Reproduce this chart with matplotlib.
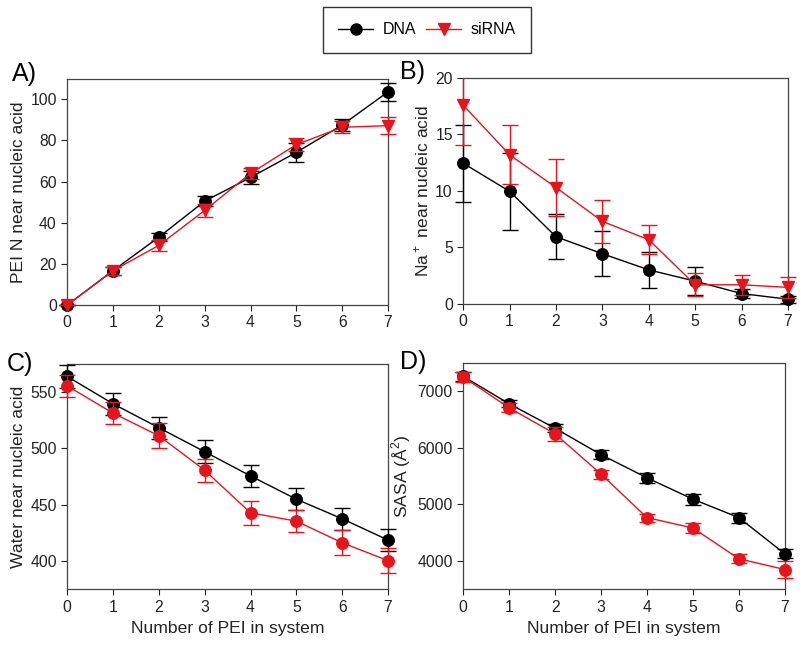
import matplotlib
matplotlib.use("Agg")
import matplotlib.pyplot as plt
from matplotlib.lines import Line2D
from matplotlib.transforms import Bbox, TransformedBbox

plt.rcParams['font.family'] = ['Liberation Sans', 'DejaVu Sans']
plt.rcParams['mathtext.fontset'] = 'custom'
plt.rcParams['mathtext.rm'] = 'Liberation Sans'

x = [0, 1, 2, 3, 4, 5, 6, 7]

# A) PEI N near nucleic acid
a_dna = [0, 16.7, 33, 50.5, 62, 74.2, 87.5, 103.6]
a_dna_err = [0, 2, 2, 2.5, 3, 4.5, 3, 4.5]
a_sirna = [0, 16.7, 29, 46, 64, 78, 86.4, 87.2]
a_sirna_err = [0, 2, 2.5, 3, 2.5, 3, 3, 4]

# B) Na+ near nucleic acid
b_dna = [12.45, 9.96, 5.94, 4.43, 3.0, 2.0, 0.9, 0.4]
b_dna_err = [3.4, 3.4, 2.0, 2.0, 1.6, 1.25, 0.4, 0.3]
b_sirna = [17.6, 13.2, 10.3, 7.3, 5.67, 1.68, 1.68, 1.45]
b_sirna_err = [3.5, 2.6, 2.5, 1.9, 1.3, 1.0, 0.9, 0.9]

# C) Water near nucleic acid
c_dna = [564, 539.7, 518.4, 497.1, 475.6, 454.9, 437.5, 418.6]
c_dna_err = [10, 10, 10, 10, 10, 10, 10, 10]
c_sirna = [555.6, 531.4, 511.3, 480.6, 442.8, 435.4, 416.2, 400.3]
c_sirna_err = [10, 10, 11, 10, 10.5, 10, 11, 11]

# D) SASA
d_dna = [7260, 6775, 6343, 5876, 5467, 5089, 4763, 4124]
d_dna_err = [80, 60, 70, 80, 90, 100, 90, 80]
d_sirna = [7248, 6704, 6243, 5533, 4763, 4580, 4036, 3846]
d_sirna_err = [90, 80, 130, 80, 70, 90, 80, 150]

fig = plt.figure(figsize=(8, 6.56), dpi=100)

panels = [
    ([0.084, 0.535, 0.401, 0.345], a_dna, a_dna_err, a_sirna, a_sirna_err, 'v',
     (0, 110), [0, 20, 40, 60, 80, 100], 'PEI N near nucleic acid', 'A)', False, (-0.171, 1.022)),
    ([0.579, 0.537, 0.406, 0.344], b_dna, b_dna_err, b_sirna, b_sirna_err, 'v',
     (0, 20), [0, 5, 10, 15, 20], 'Na$^+$ near nucleic acid', 'B)', False, (-0.196, 1.027)),
    ([0.084, 0.102, 0.401, 0.343], c_dna, c_dna_err, c_sirna, c_sirna_err, 'o',
     (375, 575), [400, 450, 500, 550], 'Water near nucleic acid', 'C)', True, (-0.187, 1.0)),
    ([0.579, 0.102, 0.402, 0.345], d_dna, d_dna_err, d_sirna, d_sirna_err, 'o',
     (3500, 7500), [4000, 5000, 6000, 7000], 'SASA (Å$^2$)', 'D)', True, (-0.196, 1.004)),
]

red = '#e8141c'
for rect, yd, ed, ys, es, mk, ylim, yt, ylab, lab, xl, lpos in panels:
    ax = fig.add_axes(rect)
    wide_clip = TransformedBbox(Bbox([[-0.06, -0.01], [1.06, 1.0]]), ax.transAxes)
    for yv, ev, col, m, z in [(yd, ed, 'black', 'o', 3), (ys, es, red, mk, 4)]:
        cont = ax.errorbar(x, yv, yerr=ev, color=col, marker=m, markersize=8.3,
                           lw=1.0, capsize=5.5, elinewidth=1.0, capthick=1.0, zorder=z)
        cont[0].set_clip_on(False)
        for art in list(cont[1]) + list(cont[2]):
            art.set_clip_path(None)
            art.set_clip_box(wide_clip)
    ax.set_xlim(0, 7)
    ax.set_ylim(*ylim)
    ax.set_xticks(x)
    ax.set_yticks(yt)
    ax.tick_params(direction='out', length=4, width=0.8, labelsize=11.3, colors='#222222')
    for s in ax.spines.values():
        s.set_color('#444444')
        s.set_linewidth(0.9)
    ax.set_ylabel(ylab, fontsize=12.6, color='#222222', labelpad=3)
    if xl:
        ax.set_xlabel('Number of PEI in system', fontsize=12.6, color='#222222', labelpad=5)
    ax.text(lpos[0], lpos[1], lab, transform=ax.transAxes, fontsize=18, ha='left', va='center')

handles = [Line2D([0], [0], color='black', marker='o', markersize=8, lw=1),
           Line2D([0], [0], color=red, marker='v', markersize=8, lw=1)]
leg = fig.legend(handles, ['DNA', 'siRNA'], loc='center', bbox_to_anchor=(427/800, 1 - 30/656),
                 ncol=2, fontsize=11.5, frameon=True, fancybox=False, edgecolor='black',
                 handlelength=2.2, columnspacing=0.6, handletextpad=0.6, borderpad=0.95)
leg.get_frame().set_linewidth(1.0)

fig.savefig('out.png', dpi=100)
